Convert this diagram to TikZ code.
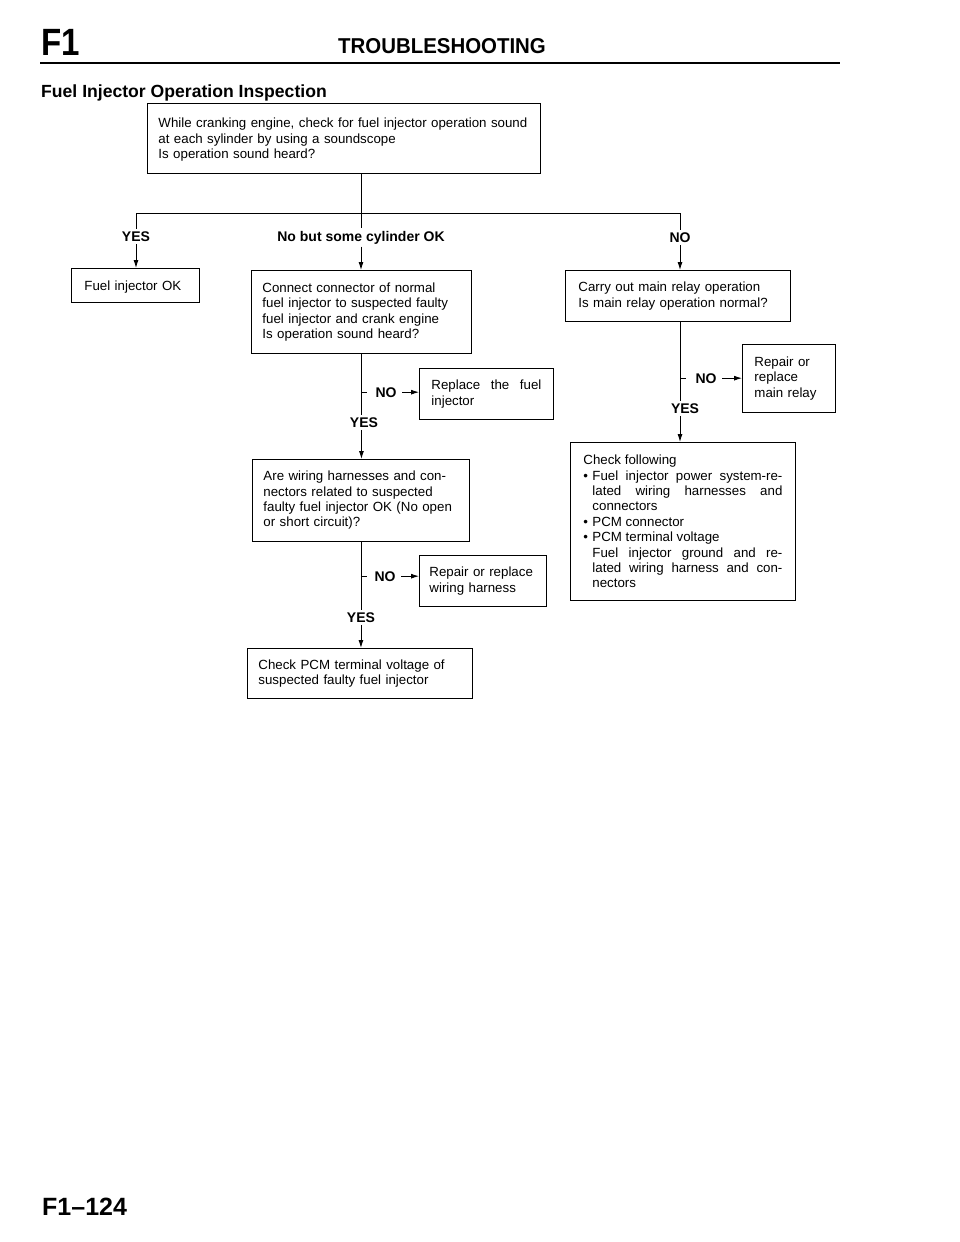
\documentclass[tikz,border=0pt]{standalone}
\usepackage{fontspec}
\setmainfont{Liberation Sans}
\usepackage{graphicx}
\usetikzlibrary{arrows.meta}
\newcommand\bxfont{\fontsize{13.3}{15.4}\selectfont\hyphenpenalty=10000\exhyphenpenalty=10000}
\newcommand\lbfont{\fontsize{14}{15}\selectfont\bfseries}
\begin{document}
\begin{tikzpicture}[x=1pt,y=-1pt,
  box/.style={draw, line width=0.9pt, anchor=north west, align=left, inner ysep=2pt, font=\bxfont},
  jbox/.style={box, align=justify},
  lbl/.style={font=\lbfont, inner sep=2.5pt, anchor=base},
  arr/.style={-{Latex[length=8pt,width=5pt]}, line width=0.9pt},
  ln/.style={line width=0.9pt}]
\useasboundingbox (0,0) rectangle (960,1242);
% header
\node[anchor=base west, inner sep=0, font=\bfseries\fontsize{38}{38}\selectfont] (f1) at (41,55) {\scalebox{0.87}[1]{F1}};
\node[anchor=base, inner sep=0, font=\bfseries\fontsize{21.5}{22}\selectfont] (hd) at (442,53) {\scalebox{0.95}[1]{TROUBLESHOOTING}};
\coordinate (r1) at (40,63);
\coordinate (r2) at (840,63);
\draw[line width=1.6pt] (r1) -- (r2);
\node[anchor=base west, inner sep=0, font=\bfseries\fontsize{17.6}{18}\selectfont] (title) at (41,97) {Fuel Injector Operation Inspection};
\node[anchor=base west, inner sep=0, font=\bfseries\fontsize{25}{25}\selectfont] (foot) at (42,1215) {F1--124};
% boxes
\node[box, inner xsep=11pt, text width=371pt, minimum height=70pt] (top) at (147,103)
  {\rule{0pt}{12pt}While cranking engine, check for fuel injector operation sound\\at each sylinder by using a soundscope\\Is operation sound heard?};
\node[box, inner xsep=13pt, text width=102pt, minimum height=34pt] (ok) at (71,268) {\rule{0pt}{12pt}Fuel injector OK};
\node[box, inner xsep=11pt, text width=198pt, minimum height=83pt] (conn) at (251,270)
  {Connect connector of normal\\fuel injector to suspected faulty\\fuel injector and crank engine\\Is operation sound heard?};
\node[jbox, inner xsep=12pt, text width=110pt, minimum height=51pt] (rep) at (419,368)
  {Replace the fuel\linebreak injector};
\node[box, inner xsep=13pt, text width=199pt, minimum height=51pt] (carry) at (565,270)
  {Carry out main relay operation\\Is main relay operation normal?};
\node[box, inner xsep=12pt, text width=69pt, minimum height=68pt] (relay) at (742,344)
  {Repair or\\replace\\main relay};
\node[box, inner xsep=11pt, text width=195pt, minimum height=82pt] (wir) at (252,459)
  {Are wiring harnesses and con-\\nectors related to suspected\\faulty fuel injector OK (No open\\or short circuit)?};
\node[box, inner xsep=10pt, text width=107pt, minimum height=51pt] (repw) at (419,555)
  {Repair or replace\\wiring harness};
\node[box, inner xsep=11pt, text width=203pt, minimum height=50pt] (pcm) at (247,648)
  {Check PCM terminal voltage of\\suspected faulty fuel injector};
\node[jbox, inner xsep=13pt, text width=199pt, minimum height=158pt] (chk) at (570,442)
  {\noindent Check following\par
   \hangindent=9pt\hangafter=1\noindent\makebox[9pt][l]{•}Fuel injector power system-re-\linebreak lated wiring harnesses and\linebreak connectors\par
   \hangindent=9pt\hangafter=1\noindent\makebox[9pt][l]{•}PCM connector\par
   \hangindent=9pt\hangafter=1\noindent\makebox[9pt][l]{•}PCM terminal voltage\\Fuel injector ground and re-\linebreak lated wiring harness and con-\linebreak nectors\par};
% top branching
\coordinate (jn) at (361,213);
\node[lbl] (ly) at (136,241) {YES};
\node[lbl] (lm) at (361,241) {No but some cylinder OK};
\node[lbl] (lno) at (680,242) {NO};
\draw[ln] (top.south -| jn) -- (lm.north);
\draw[ln] (ly.north) -- (ly.north |- jn) -- (lno.north |- jn) -- (lno.north);
\draw[arr] (ly.south) -- (ly.south |- ok.north);
\draw[arr] (lm.south) -- (lm.south |- conn.north);
\draw[arr] (lno.south) -- (lno.south |- carry.north);
% branch 1
\node[lbl] (n1) at (386,397) {NO};
\node[lbl] (y1) at (364,427) {YES};
\draw[ln] (conn.south) -- (conn.south |- y1.north);
\draw[ln] (n1.west -| conn.south) -- ++(6,0);
\draw[arr, shorten <=3pt] (n1.east) -- (n1.east -| rep.west);
\draw[arr] (y1.south -| conn.south) -- (conn.south |- wir.north);
% branch 2
\node[lbl] (n2) at (385,581) {NO};
\node[lbl] (y2) at (361,622) {YES};
\draw[ln] (wir.south) -- (wir.south |- y2.north);
\draw[ln] (n2.west -| wir.south) -- ++(6,0);
\draw[arr, shorten <=3pt] (n2.east) -- (n2.east -| repw.west);
\draw[arr] (y2.south -| wir.south) -- (wir.south |- pcm.north);
% branch 3
\node[lbl] (n3) at (706,383) {NO};
\node[lbl] (y3) at (685,413) {YES};
\draw[ln] (carry.south -| lno.south) -- (lno.south |- y3.north);
\draw[ln] (n3.west -| lno.south) -- ++(6,0);
\draw[arr, shorten <=3pt] (n3.east) -- (n3.east -| relay.west);
\draw[arr] (y3.south -| lno.south) -- (lno.south |- chk.north);
\end{tikzpicture}
\end{document}
